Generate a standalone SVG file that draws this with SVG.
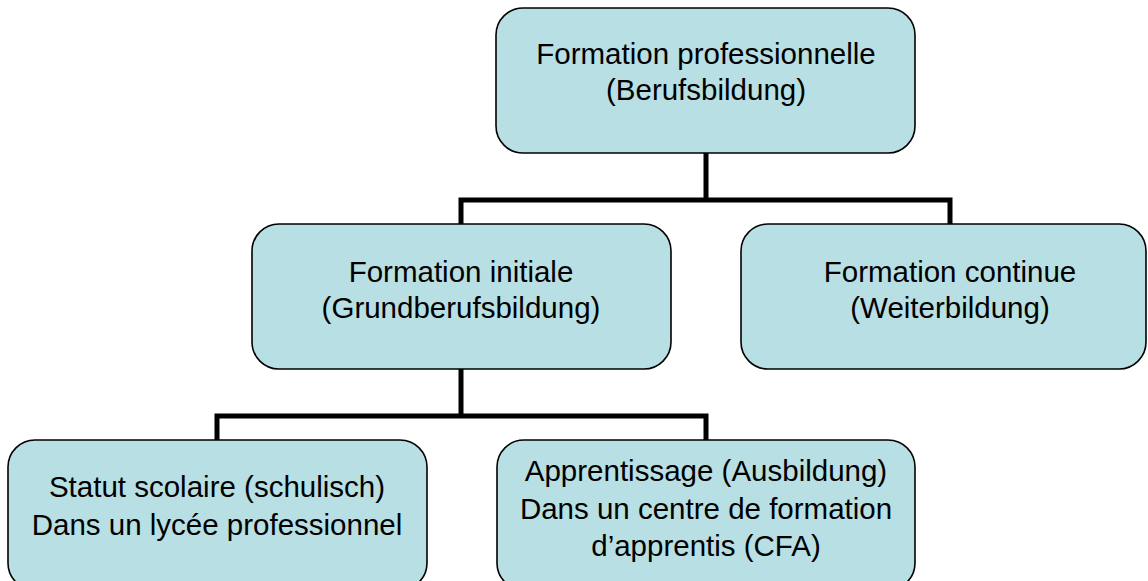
<svg xmlns="http://www.w3.org/2000/svg" width="1148" height="581" viewBox="0 0 1148 581">
<style>
.box{fill:#b8dfe3;stroke:#000;stroke-width:1.6}
.lbl{font-family:"Liberation Sans",Arial,sans-serif;font-size:29.5px;fill:#000;text-anchor:middle}
.conn{fill:none;stroke:#000;stroke-width:5;stroke-linejoin:miter}
</style>
<rect width="1148" height="581" fill="#fff"/>
<g id="connectors">
<path class="conn" d="M706,153 V200"/>
<path class="conn" d="M461,224 V200 H950 V224"/>
<path class="conn" d="M461,369 V416"/>
<path class="conn" d="M217,440 V416 H706 V440"/>
</g>
<g id="node-berufsbildung">
<rect class="box" x="496" y="8" width="419" height="145" rx="27"/>
<text class="lbl" x="706" y="64">Formation professionnelle</text>
<text class="lbl" x="706" y="100">(Berufsbildung)</text>
</g>
<g id="node-initiale">
<rect class="box" x="252" y="224" width="419" height="145" rx="27"/>
<text class="lbl" x="461" y="282">Formation initiale</text>
<text class="lbl" x="461" y="318">(Grundberufsbildung)</text>
</g>
<g id="node-continue">
<rect class="box" x="741" y="224" width="405" height="145" rx="27"/>
<text class="lbl" x="950" y="282">Formation continue</text>
<text class="lbl" x="950" y="318">(Weiterbildung)</text>
</g>
<g id="node-scolaire">
<rect class="box" x="8" y="440" width="419" height="150" rx="27"/>
<text class="lbl" x="217" y="497">Statut scolaire (schulisch)</text>
<text class="lbl" x="217" y="535">Dans un lycée professionnel</text>
</g>
<g id="node-apprentissage">
<rect class="box" x="497" y="440" width="418" height="150" rx="27"/>
<text class="lbl" x="706" y="481">Apprentissage (Ausbildung)</text>
<text class="lbl" x="706" y="519">Dans un centre de formation</text>
<text class="lbl" x="706" y="556">d’apprentis (CFA)</text>
</g>
</svg>
